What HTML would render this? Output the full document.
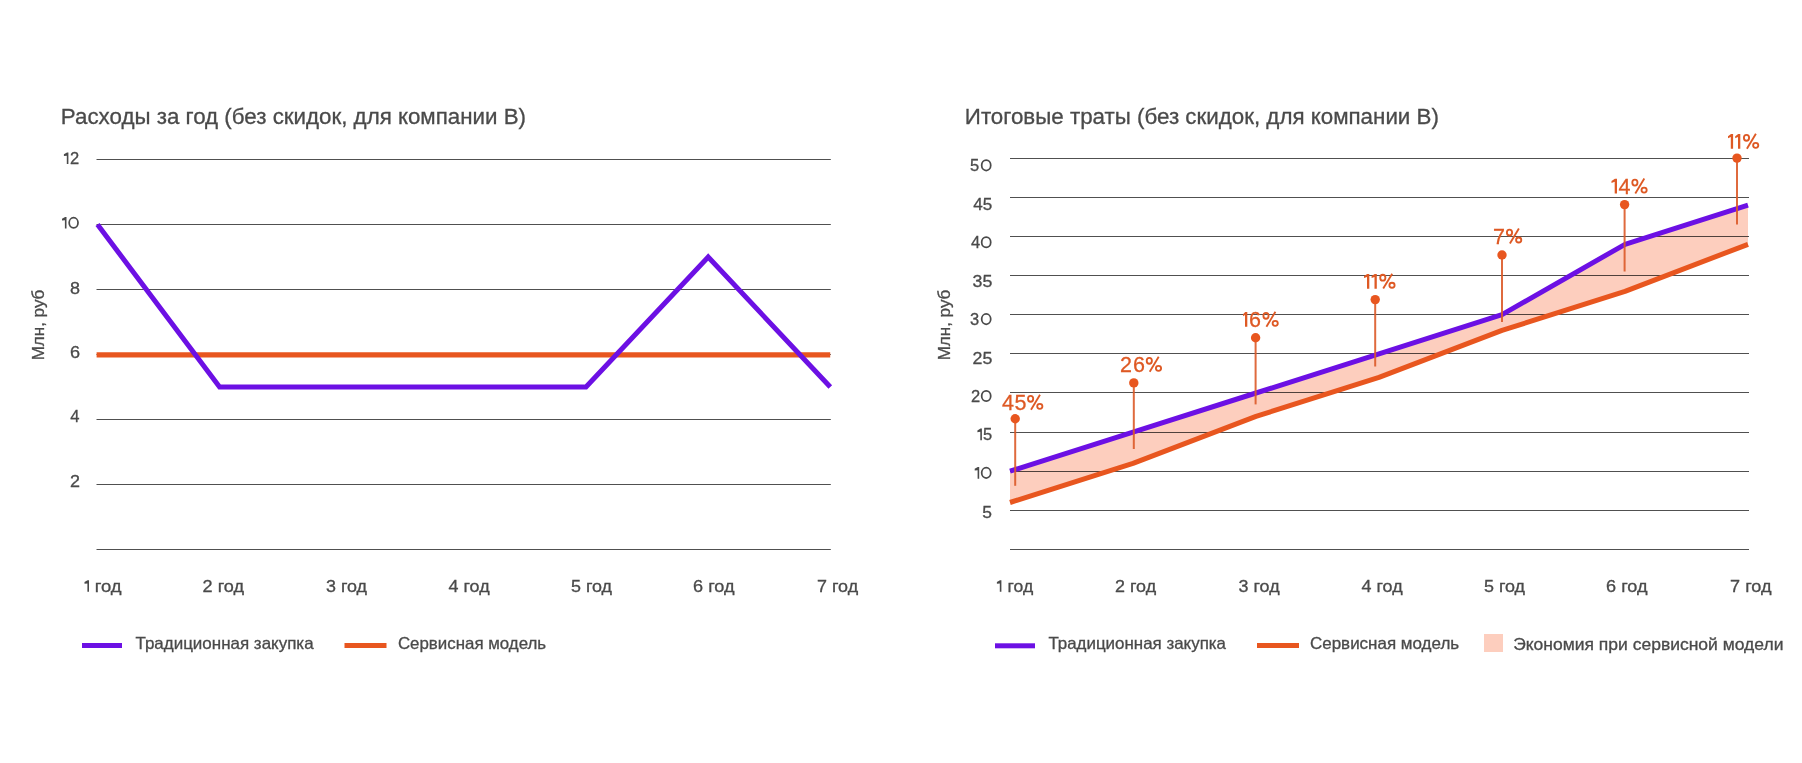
<!DOCTYPE html><html><head><meta charset="utf-8"><style>html,body{margin:0;padding:0;background:#fff;overflow:hidden;}svg{display:block;}text{font-family:"Liberation Sans",sans-serif;}</style></head><body>
<svg width="1802" height="763" viewBox="0 0 1802 763">
<rect width="1802" height="763" fill="#fff"/>
<rect x="96.5" y="159" width="734.3" height="1" fill="#505050"/>
<rect x="96.5" y="224" width="734.3" height="1" fill="#505050"/>
<rect x="96.5" y="289" width="734.3" height="1" fill="#505050"/>
<rect x="96.5" y="354" width="734.3" height="1" fill="#505050"/>
<rect x="96.5" y="419" width="734.3" height="1" fill="#505050"/>
<rect x="96.5" y="484" width="734.3" height="1" fill="#505050"/>
<rect x="96.5" y="549" width="734.3" height="1" fill="#505050"/>
<text transform="translate(44.2,325) rotate(-90)" font-size="17" fill="#4a4a4a" stroke="#4a4a4a" stroke-width="0.3" text-anchor="middle">Млн, руб</text>
<line x1="96.6" y1="354.8" x2="830.2" y2="354.8" stroke="#e8561f" stroke-width="5.2"/>
<polyline points="97.5,224.5 219.6,387.0 341.8,387.0 463.9,387.0 586.0,387.0 708.2,257.0 830.3,387.0" fill="none" stroke="#6c10e4" stroke-width="5" stroke-linejoin="miter"/>
<rect x="82" y="643" width="40" height="5" fill="#6c10e4"/>
<rect x="344.5" y="643" width="42" height="5" fill="#e8561f"/>
<rect x="1010" y="158" width="739" height="1" fill="#505050"/>
<rect x="1010" y="197" width="739" height="1" fill="#505050"/>
<rect x="1010" y="236" width="739" height="1" fill="#505050"/>
<rect x="1010" y="275" width="739" height="1" fill="#505050"/>
<rect x="1010" y="314" width="739" height="1" fill="#505050"/>
<rect x="1010" y="353" width="739" height="1" fill="#505050"/>
<rect x="1010" y="392" width="739" height="1" fill="#505050"/>
<rect x="1010" y="432" width="739" height="1" fill="#505050"/>
<rect x="1010" y="471" width="739" height="1" fill="#505050"/>
<rect x="1010" y="510" width="739" height="1" fill="#505050"/>
<rect x="1010" y="549" width="739" height="1" fill="#505050"/>
<polygon points="1010.0,471.2 1133.0,432.1 1256.0,393.0 1379.0,353.8 1502.0,314.7 1625.0,244.3 1748.0,205.2 1748.0,244.3 1625.0,291.3 1502.0,330.4 1379.0,377.3 1256.0,416.4 1133.0,463.4 1010.0,502.5" fill="#fdcebe" style="mix-blend-mode:multiply"/>
<text transform="translate(950,325) rotate(-90)" font-size="17" fill="#4a4a4a" stroke="#4a4a4a" stroke-width="0.3" text-anchor="middle">Млн, руб</text>
<polyline points="1010.0,502.5 1133.0,463.4 1256.0,416.4 1379.0,377.3 1502.0,330.4 1625.0,291.3 1748.0,244.3" fill="none" stroke="#e8561f" stroke-width="5" stroke-linejoin="round"/>
<polyline points="1010.0,471.2 1133.0,432.1 1256.0,393.0 1379.0,353.8 1502.0,314.7 1625.0,244.3 1748.0,205.2" fill="none" stroke="#6c10e4" stroke-width="5" stroke-linejoin="round"/>
<line x1="1015.2" y1="418.8" x2="1015.2" y2="485.8" stroke="#dc5a28" stroke-width="2" stroke-opacity="0.9"/>
<circle cx="1015.2" cy="418.8" r="4.7" fill="#e8561f"/>
<line x1="1133.8" y1="382.9" x2="1133.8" y2="449" stroke="#dc5a28" stroke-width="2" stroke-opacity="0.9"/>
<circle cx="1133.8" cy="382.9" r="4.7" fill="#e8561f"/>
<line x1="1255.6" y1="337.7" x2="1255.6" y2="404.4" stroke="#dc5a28" stroke-width="2" stroke-opacity="0.9"/>
<circle cx="1255.6" cy="337.7" r="4.7" fill="#e8561f"/>
<line x1="1375.2" y1="299.6" x2="1375.2" y2="366.5" stroke="#dc5a28" stroke-width="2" stroke-opacity="0.9"/>
<circle cx="1375.2" cy="299.6" r="4.7" fill="#e8561f"/>
<line x1="1502" y1="255" x2="1502" y2="322" stroke="#dc5a28" stroke-width="2" stroke-opacity="0.9"/>
<circle cx="1502" cy="255" r="4.7" fill="#e8561f"/>
<line x1="1624.6" y1="204.6" x2="1624.6" y2="271.5" stroke="#dc5a28" stroke-width="2" stroke-opacity="0.9"/>
<circle cx="1624.6" cy="204.6" r="4.7" fill="#e8561f"/>
<line x1="1737" y1="158.1" x2="1737" y2="224.4" stroke="#dc5a28" stroke-width="2" stroke-opacity="0.9"/>
<circle cx="1737" cy="158.1" r="4.7" fill="#e8561f"/>
<rect x="995" y="643.3" width="40" height="5" fill="#6c10e4"/>
<rect x="1257" y="643" width="42" height="5" fill="#e8561f"/>
<rect x="1484" y="634" width="19" height="18" fill="#fdcebe"/>
<text x="1002.01" y="409.80" font-size="21.5" fill="#de5924" stroke="#de5924" stroke-width="0.3">4</text>
<text x="1014.44" y="409.80" font-size="21.5" fill="#de5924" stroke="#de5924" stroke-width="0.3">5</text>
<g fill="none" stroke="#de5924" stroke-width="1.85"><ellipse cx="1030.60" cy="398.80" rx="2.6" ry="2.95"/><ellipse cx="1039.80" cy="406.30" rx="2.6" ry="2.5"/><line x1="1040.00" y1="394.80" x2="1031.00" y2="409.70"/></g>
<text x="1119.92" y="371.80" font-size="21.5" fill="#de5924" stroke="#de5924" stroke-width="0.3">2</text>
<text x="1133.01" y="371.80" font-size="21.5" fill="#de5924" stroke="#de5924" stroke-width="0.3">6</text>
<g fill="none" stroke="#de5924" stroke-width="1.85"><ellipse cx="1149.30" cy="360.80" rx="2.6" ry="2.95"/><ellipse cx="1158.50" cy="368.30" rx="2.6" ry="2.5"/><line x1="1158.70" y1="356.80" x2="1149.70" y2="371.70"/></g>
<path d="M1247.30,312.00 L1247.30,326.80 L1245.00,326.80 L1245.00,315.00 L1243.10,316.20 L1243.10,314.20 L1245.20,312.00 Z" fill="#de5924"/>
<text x="1249.01" y="326.80" font-size="21.5" fill="#de5924" stroke="#de5924" stroke-width="0.3">6</text>
<g fill="none" stroke="#de5924" stroke-width="1.85"><ellipse cx="1266.00" cy="315.80" rx="2.6" ry="2.95"/><ellipse cx="1275.20" cy="323.30" rx="2.6" ry="2.5"/><line x1="1275.40" y1="311.80" x2="1266.40" y2="326.70"/></g>
<path d="M1369.30,273.90 L1369.30,288.70 L1367.00,288.70 L1367.00,276.90 L1364.00,278.10 L1364.00,276.10 L1367.20,273.90 Z" fill="#de5924"/>
<path d="M1376.80,273.90 L1376.80,288.70 L1374.50,288.70 L1374.50,276.90 L1371.60,278.10 L1371.60,276.10 L1374.70,273.90 Z" fill="#de5924"/>
<g fill="none" stroke="#de5924" stroke-width="1.85"><ellipse cx="1382.80" cy="277.70" rx="2.6" ry="2.95"/><ellipse cx="1392.00" cy="285.20" rx="2.6" ry="2.5"/><line x1="1392.20" y1="273.70" x2="1383.20" y2="288.60"/></g>
<text x="1493.10" y="243.50" font-size="21.5" fill="#de5924" stroke="#de5924" stroke-width="0.3">7</text>
<g fill="none" stroke="#de5924" stroke-width="1.85"><ellipse cx="1509.50" cy="232.50" rx="2.6" ry="2.95"/><ellipse cx="1518.70" cy="240.00" rx="2.6" ry="2.5"/><line x1="1518.90" y1="228.50" x2="1509.90" y2="243.40"/></g>
<path d="M1617.00,178.80 L1617.00,193.60 L1614.70,193.60 L1614.70,181.80 L1611.50,183.00 L1611.50,181.00 L1614.90,178.80 Z" fill="#de5924"/>
<text x="1618.61" y="193.60" font-size="21.5" fill="#de5924" stroke="#de5924" stroke-width="0.3">4</text>
<g fill="none" stroke="#de5924" stroke-width="1.85"><ellipse cx="1634.90" cy="182.60" rx="2.6" ry="2.95"/><ellipse cx="1644.10" cy="190.10" rx="2.6" ry="2.5"/><line x1="1644.30" y1="178.60" x2="1635.30" y2="193.50"/></g>
<path d="M1733.10,134.00 L1733.10,148.80 L1730.80,148.80 L1730.80,137.00 L1728.00,138.20 L1728.00,136.20 L1731.00,134.00 Z" fill="#de5924"/>
<path d="M1740.30,134.00 L1740.30,148.80 L1738.00,148.80 L1738.00,137.00 L1735.20,138.20 L1735.20,136.20 L1738.20,134.00 Z" fill="#de5924"/>
<g fill="none" stroke="#de5924" stroke-width="1.85"><ellipse cx="1746.50" cy="137.80" rx="2.6" ry="2.95"/><ellipse cx="1755.70" cy="145.30" rx="2.6" ry="2.5"/><line x1="1755.90" y1="133.80" x2="1746.90" y2="148.70"/></g>
<path d="M68.40,152.50 L68.40,164.00 L66.80,164.00 L66.80,155.70 L63.90,156.06 L63.90,154.30 L67.00,152.50 Z" fill="#4a4a4a"/>
<text x="69.97" y="164.00" font-size="16.5" fill="#4a4a4a" stroke="#4a4a4a" stroke-width="0.3">2</text>
<path d="M66.50,217.04 L66.50,228.54 L64.90,228.54 L64.90,220.24 L62.00,220.60 L62.00,218.84 L65.10,217.04 Z" fill="#4a4a4a"/>
<ellipse cx="73.60" cy="222.79" rx="4.43" ry="5.07" fill="none" stroke="#4a4a4a" stroke-width="1.75"/>
<text x="970.04" y="171.20" font-size="16.5" fill="#4a4a4a" stroke="#4a4a4a" stroke-width="0.3">5</text>
<ellipse cx="986.20" cy="165.35" rx="4.53" ry="5.17" fill="none" stroke="#4a4a4a" stroke-width="1.75"/>
<text x="970.92" y="248.08" font-size="16.5" fill="#4a4a4a" stroke="#4a4a4a" stroke-width="0.3">4</text>
<ellipse cx="986.20" cy="242.23" rx="4.53" ry="5.17" fill="none" stroke="#4a4a4a" stroke-width="1.75"/>
<text x="969.97" y="324.96" font-size="16.5" fill="#4a4a4a" stroke="#4a4a4a" stroke-width="0.3">3</text>
<ellipse cx="986.20" cy="319.11" rx="4.53" ry="5.17" fill="none" stroke="#4a4a4a" stroke-width="1.75"/>
<text x="970.97" y="401.84" font-size="16.5" fill="#4a4a4a" stroke="#4a4a4a" stroke-width="0.3">2</text>
<ellipse cx="986.20" cy="395.99" rx="4.53" ry="5.17" fill="none" stroke="#4a4a4a" stroke-width="1.75"/>
<path d="M981.90,428.58 L981.90,440.28 L980.30,440.28 L980.30,431.78 L977.40,432.14 L977.40,430.38 L980.50,428.58 Z" fill="#4a4a4a"/>
<text x="982.94" y="440.28" font-size="16.5" fill="#4a4a4a" stroke="#4a4a4a" stroke-width="0.3">5</text>
<path d="M979.20,467.02 L979.20,478.72 L977.60,478.72 L977.60,470.22 L974.70,470.58 L974.70,468.82 L977.80,467.02 Z" fill="#4a4a4a"/>
<ellipse cx="986.20" cy="472.87" rx="4.53" ry="5.17" fill="none" stroke="#4a4a4a" stroke-width="1.75"/>
<path d="M89.00,580.20 L89.00,591.80 L87.40,591.80 L87.40,583.40 L84.50,583.76 L84.50,582.00 L87.60,580.20 Z" fill="#4a4a4a"/>
<path d="M1001.40,580.20 L1001.40,591.80 L999.80,591.80 L999.80,583.40 L996.90,583.76 L996.90,582.00 L1000.00,580.20 Z" fill="#4a4a4a"/>
<text x="60.88" y="123.97" font-size="22" fill="#4a4a4a" stroke="#4a4a4a" stroke-width="0.3" textLength="465.10" lengthAdjust="spacingAndGlyphs">Расходы за год (без скидок, для компании B)</text>
<text x="964.84" y="123.97" font-size="22" fill="#4a4a4a" stroke="#4a4a4a" stroke-width="0.3" textLength="474.04" lengthAdjust="spacingAndGlyphs">Итоговые траты (без скидок, для компании B)</text>
<text x="70.04" y="293.73" font-size="16.5" fill="#4a4a4a" stroke="#4a4a4a" stroke-width="0.3" textLength="10.00" lengthAdjust="spacingAndGlyphs">8</text>
<text x="69.98" y="358.25" font-size="16.5" fill="#4a4a4a" stroke="#4a4a4a" stroke-width="0.3" textLength="10.06" lengthAdjust="spacingAndGlyphs">6</text>
<text x="70.38" y="422.25" font-size="16.5" fill="#4a4a4a" stroke="#4a4a4a" stroke-width="0.3" textLength="9.26" lengthAdjust="spacingAndGlyphs">4</text>
<text x="70.04" y="487.31" font-size="16.5" fill="#4a4a4a" stroke="#4a4a4a" stroke-width="0.3" textLength="10.00" lengthAdjust="spacingAndGlyphs">2</text>
<text x="973.30" y="209.93" font-size="16.5" fill="#4a4a4a" stroke="#4a4a4a" stroke-width="0.3" textLength="19.00" lengthAdjust="spacingAndGlyphs">45</text>
<text x="972.50" y="286.57" font-size="16.5" fill="#4a4a4a" stroke="#4a4a4a" stroke-width="0.3" textLength="19.80" lengthAdjust="spacingAndGlyphs">35</text>
<text x="972.50" y="363.61" font-size="16.5" fill="#4a4a4a" stroke="#4a4a4a" stroke-width="0.3" textLength="19.80" lengthAdjust="spacingAndGlyphs">25</text>
<text x="982.20" y="517.69" font-size="16.5" fill="#4a4a4a" stroke="#4a4a4a" stroke-width="0.3" textLength="9.70" lengthAdjust="spacingAndGlyphs">5</text>
<text x="202.58" y="592.27" font-size="16.5" fill="#4a4a4a" stroke="#4a4a4a" stroke-width="0.3" textLength="41.50" lengthAdjust="spacingAndGlyphs">2 год</text>
<text x="1115.04" y="592.27" font-size="16.5" fill="#4a4a4a" stroke="#4a4a4a" stroke-width="0.3" textLength="41.10" lengthAdjust="spacingAndGlyphs">2 год</text>
<text x="325.96" y="592.27" font-size="16.5" fill="#4a4a4a" stroke="#4a4a4a" stroke-width="0.3" textLength="41.10" lengthAdjust="spacingAndGlyphs">3 год</text>
<text x="1238.50" y="592.27" font-size="16.5" fill="#4a4a4a" stroke="#4a4a4a" stroke-width="0.3" textLength="41.10" lengthAdjust="spacingAndGlyphs">3 год</text>
<text x="448.50" y="592.27" font-size="16.5" fill="#4a4a4a" stroke="#4a4a4a" stroke-width="0.3" textLength="41.10" lengthAdjust="spacingAndGlyphs">4 год</text>
<text x="1361.50" y="592.27" font-size="16.5" fill="#4a4a4a" stroke="#4a4a4a" stroke-width="0.3" textLength="41.10" lengthAdjust="spacingAndGlyphs">4 год</text>
<text x="570.98" y="592.27" font-size="16.5" fill="#4a4a4a" stroke="#4a4a4a" stroke-width="0.3" textLength="41.10" lengthAdjust="spacingAndGlyphs">5 год</text>
<text x="1483.98" y="592.27" font-size="16.5" fill="#4a4a4a" stroke="#4a4a4a" stroke-width="0.3" textLength="41.10" lengthAdjust="spacingAndGlyphs">5 год</text>
<text x="693.08" y="592.27" font-size="16.5" fill="#4a4a4a" stroke="#4a4a4a" stroke-width="0.3" textLength="41.50" lengthAdjust="spacingAndGlyphs">6 год</text>
<text x="1606.06" y="592.27" font-size="16.5" fill="#4a4a4a" stroke="#4a4a4a" stroke-width="0.3" textLength="41.50" lengthAdjust="spacingAndGlyphs">6 год</text>
<text x="817.02" y="592.27" font-size="16.5" fill="#4a4a4a" stroke="#4a4a4a" stroke-width="0.3" textLength="41.10" lengthAdjust="spacingAndGlyphs">7 год</text>
<text x="1730.08" y="592.27" font-size="16.5" fill="#4a4a4a" stroke="#4a4a4a" stroke-width="0.3" textLength="41.50" lengthAdjust="spacingAndGlyphs">7 год</text>
<text x="94.70" y="592.47" font-size="16.5" fill="#4a4a4a" stroke="#4a4a4a" stroke-width="0.3" textLength="26.90" lengthAdjust="spacingAndGlyphs">год</text>
<text x="1007.54" y="592.47" font-size="16.5" fill="#4a4a4a" stroke="#4a4a4a" stroke-width="0.3" textLength="25.66" lengthAdjust="spacingAndGlyphs">год</text>
<text x="135.50" y="649.25" font-size="16.5" fill="#4a4a4a" stroke="#4a4a4a" stroke-width="0.3" textLength="178.08" lengthAdjust="spacingAndGlyphs">Традиционная закупка</text>
<text x="397.92" y="649.25" font-size="16.5" fill="#4a4a4a" stroke="#4a4a4a" stroke-width="0.3" textLength="148.26" lengthAdjust="spacingAndGlyphs">Сервисная модель</text>
<text x="1048.40" y="649.25" font-size="16.5" fill="#4a4a4a" stroke="#4a4a4a" stroke-width="0.3" textLength="177.60" lengthAdjust="spacingAndGlyphs">Традиционная закупка</text>
<text x="1309.96" y="649.25" font-size="16.5" fill="#4a4a4a" stroke="#4a4a4a" stroke-width="0.3" textLength="149.20" lengthAdjust="spacingAndGlyphs">Сервисная модель</text>
<text x="1513.18" y="650.49" font-size="16.5" fill="#4a4a4a" stroke="#4a4a4a" stroke-width="0.3" textLength="270.26" lengthAdjust="spacingAndGlyphs">Экономия при сервисной модели</text>
</svg></body></html>
